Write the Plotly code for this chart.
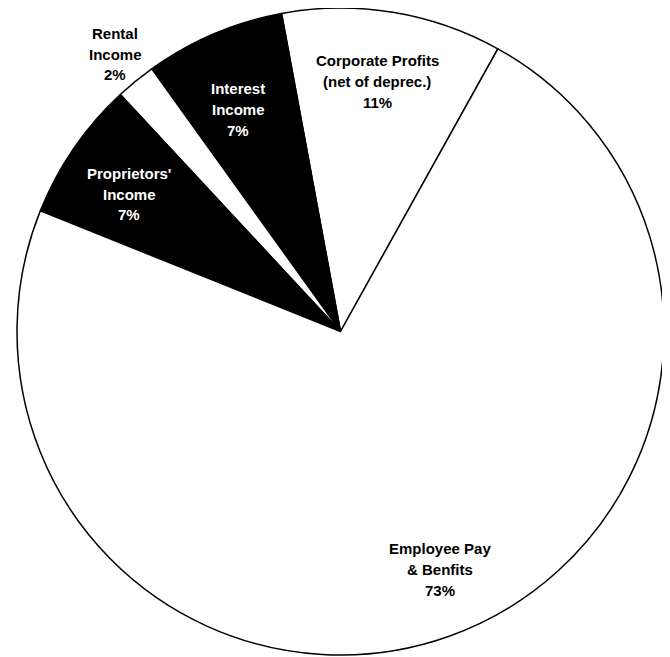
import plotly.graph_objects as go

W, H = 670, 657
OFF = 8  # page body margin offset

categories = ["Corporate Profits (net of deprec.)", "Interest Income", "Rental Income",
              "Proprietors' Income", "Employee Pay & Benfits"]
shares = [11, 7, 2, 7, 73]
slice_colors = ["white", "black", "white", "black", "white"]

label_lines = [
    ["Corporate Profits", "(net of deprec.)", "11%"],
    ["Interest", "Income", "7%"],
    ["Rental", "Income", "2%"],
    ["Proprietors'", "Income", "7%"],
    ["Employee Pay", "& Benfits", "73%"],
]
label_colors = ["black", "white", "black", "white", "black"]
# label anchor (pixel centre of first line in screenshot), line step
label_pos = [(377, 60), (238, 88), (115, 33), (129, 173), (440, 548)]
line_step = 21

fig = go.Figure(go.Pie(
    labels=categories,
    values=shares,
    sort=False,
    direction="counterclockwise",
    rotation=-10.5,
    marker=dict(colors=slice_colors, line=dict(color="black", width=1.5)),
    textinfo="none",
    hoverinfo="label+percent",
    showlegend=False,
    domain=dict(x=[(14 - OFF) / W, (667 - OFF) / W], y=[1 - (655 - OFF) / H, 1]),
))

anns = []
for lines, col, (px, py) in zip(label_lines, label_colors, label_pos):
    for i, t in enumerate(lines):
        anns.append(dict(
            x=(px - OFF) / W, y=1 - (py - OFF + i * line_step) / H, xref="paper", yref="paper",
            text="<b>" + t + "</b>", showarrow=False, xanchor="center", yanchor="middle",
            font=dict(family="Liberation Sans, Arial, sans-serif", size=15, color=col),
        ))

fig.update_layout(
    width=W, height=H,
    margin=dict(l=0, r=0, t=0, b=0),
    paper_bgcolor="white", plot_bgcolor="white",
    annotations=anns,
)

fig.write_html("out.html")
